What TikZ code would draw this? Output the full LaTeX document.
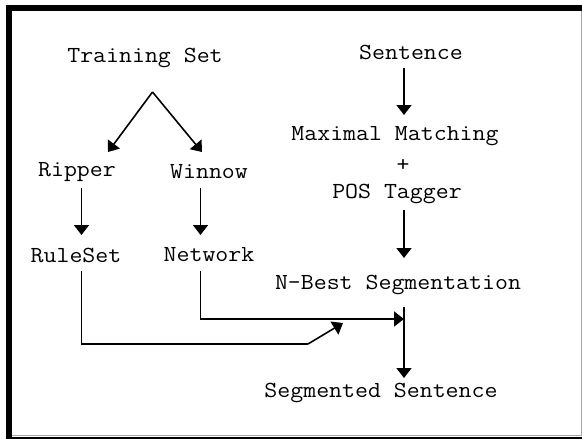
\documentclass[tikz,border=0pt]{standalone}
\usepackage{fontspec}
\setmonofont{Latin Modern Mono}[FakeStretch=1.093]
\usetikzlibrary{arrows.meta}
\begin{document}
\begin{tikzpicture}[x=1pt,y=-1pt,
  lbl/.style={font=\ttfamily\fontsize{23}{25}\selectfont, inner sep=0pt},
  flow/.style={line width=1.6pt, -{Triangle[length=10pt,width=15pt]}},
  wire/.style={line width=1.6pt}]
  \useasboundingbox (0,0) rectangle (582,439);
  % frame
  \fill[black] (6,5) rectangle (582,11);
  \fill[black] (6,5) rectangle (12,439);
  \fill[black] (6,437) rectangle (582,439);
  \draw[gray!70, line width=0.8pt] (581,11) -- (581,436);
  \draw[gray!70, line width=0.8pt] (12,435.5) -- (581,435.5);

  % left branch
  \node[lbl] (ts)  at (145,58)  {Training Set};
  \node[lbl] (rip) at (77,172)  {Ripper};
  \node[lbl] (win) at (209,172) {Winnow};
  \node[lbl] (rs)  at (76,255)  {RuleSet};
  \node[lbl] (net) at (209,255) {Network};

  % right branch
  \node[lbl] (sent) at (411,52)  {Sentence};
  \node[lbl] (mm)   at (395,136) {Maximal Matching};
  \node[lbl] (plus) at (403,165) {+};
  \node[lbl] (pos)  at (397,194) {POS Tagger};
  \node[lbl] (nbest) at (398,285) {N-Best Segmentation};
  \node[lbl] (seg)  at (381,393) {Segmented Sentence};

  % guide positions
  \coordinate (apex) at (152.5,92);
  \coordinate (lx) at (81.5,0);
  \coordinate (wx) at (200.5,0);
  \coordinate (spine) at (404,0);
  \coordinate (netjoin) at (404,319);
  \coordinate (rsbend) at (308,344);
  \coordinate (rstip) at (343,323);

  % training set split
  \draw[flow] (apex) -- (108,152);
  \draw[flow] (apex) -- (202,152);

  % learners to models
  \draw[flow, shorten <=16pt, shorten >=20pt] (rip.center -| lx) -- (rs.center -| lx);
  \draw[flow, shorten <=16pt, shorten >=20pt] (win.center -| wx) -- (net.center -| wx);

  % sentence pipeline
  \draw[flow, shorten <=16pt, shorten >=21pt] (sent.center -| spine) -- (mm.center -| spine);
  \draw[flow, shorten <=16pt, shorten >=27pt] (pos.center -| spine) -- (nbest.center -| spine);
  \draw[flow, shorten <=22pt, shorten >=15pt] (nbest.center -| spine) -- (seg.center -| spine);

  % models feeding the segmentation
  \draw[flow, shorten <=16pt] (net.center -| wx) |- (netjoin);
  \draw[wire, shorten <=16pt] (rs.center -| lx) |- (rsbend);
  \draw[flow] (rsbend) -- (rstip);
\end{tikzpicture}
\end{document}
